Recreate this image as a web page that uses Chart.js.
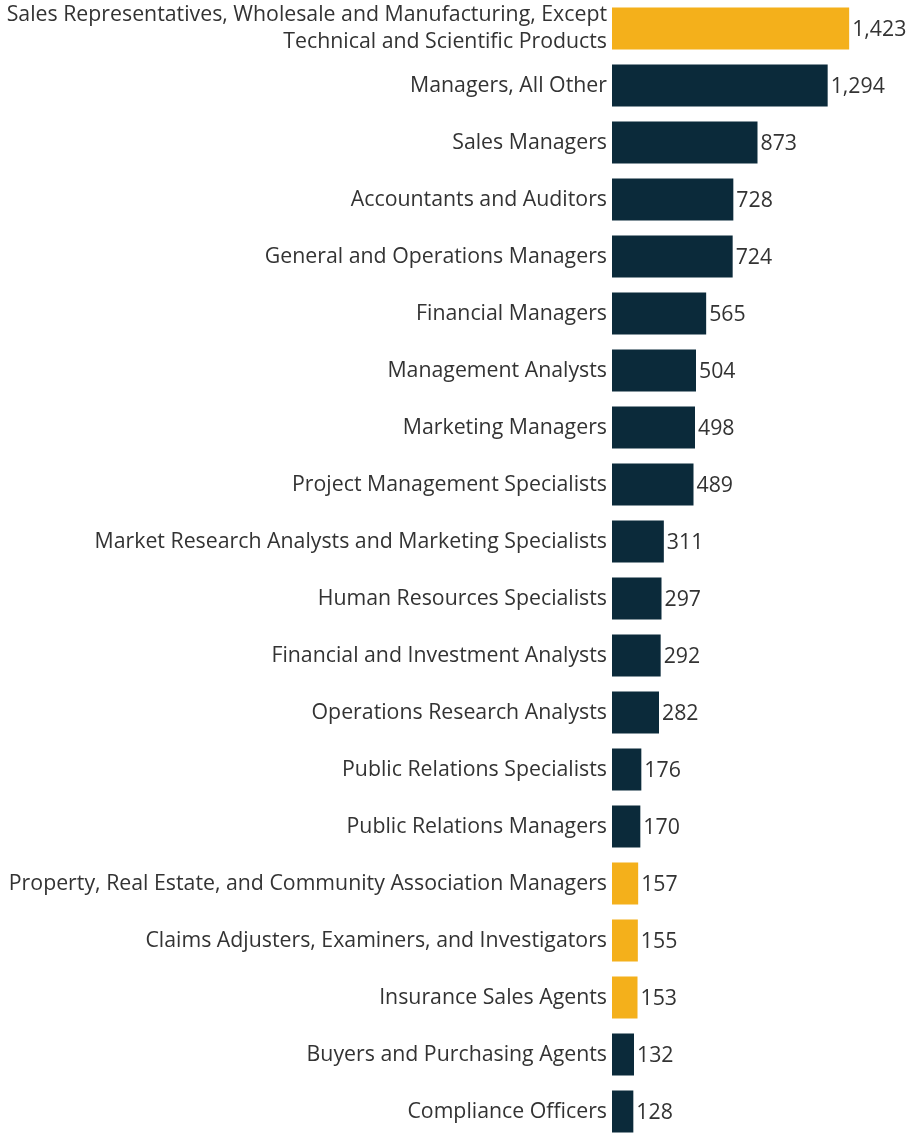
<!DOCTYPE html>
<html><head><meta charset="utf-8">
<script src="https://cdn.jsdelivr.net/npm/chart.js@4"></script>
<style>html,body{margin:0;padding:0;background:#fff}#wrap{width:922px;height:1140px;position:relative}</style>
</head><body><div id="wrap"><canvas id="c"></canvas></div>
<script>
const categories = [
  ["Sales Representatives, Wholesale and Manufacturing, Except","Technical and Scientific Products"],
  "Managers, All Other","Sales Managers","Accountants and Auditors","General and Operations Managers",
  "Financial Managers","Management Analysts","Marketing Managers","Project Management Specialists",
  "Market Research Analysts and Marketing Specialists","Human Resources Specialists",
  "Financial and Investment Analysts","Operations Research Analysts","Public Relations Specialists",
  "Public Relations Managers","Property, Real Estate, and Community Association Managers",
  "Claims Adjusters, Examiners, and Investigators","Insurance Sales Agents",
  "Buyers and Purchasing Agents","Compliance Officers"
];
const values = [1423,1294,873,728,724,565,504,498,489,311,297,292,282,176,170,157,155,153,132,128];
const highlighted = [true,false,false,false,false,false,false,false,false,false,false,false,false,false,false,true,true,true,false,false];
const GOLD = '#f4b01b', NAVY = '#0b2a3a';
const FONT = '"Open Sans", sans-serif';
const FSIZE = 21.3;

const valueLabels = {
  id:'valueLabels',
  afterDatasetsDraw(chart){
    const ctx = chart.ctx; const meta = chart.getDatasetMeta(0);
    ctx.save(); ctx.font = FSIZE + 'px ' + FONT; ctx.fillStyle = '#333'; ctx.textBaseline='middle'; ctx.textAlign='left';
    meta.data.forEach((bar,i)=>{ ctx.fillText(values[i].toLocaleString('en-US'), bar.x + 3, bar.y + 1); });
    ctx.restore();
  }
};

new Chart(document.getElementById('c'), {
  type:'bar',
  data:{ labels: categories, datasets:[{ data: values,
    backgroundColor: highlighted.map(h=>h?GOLD:NAVY),
    categoryPercentage:1, barPercentage:0.74 }]},
  options:{
    indexAxis:'y', responsive:true, maintainAspectRatio:false, animation:false,
    layout:{padding:0},
    plugins:{legend:{display:false}, tooltip:{enabled:false}},
    scales:{
      x:{display:false, min:0, max:1860},
      y:{
        grid:{display:false, drawTicks:false}, border:{display:false},
        ticks:{color:'#333', padding:5, autoSkip:false, font:{family:FONT, size:FSIZE, lineHeight:1.27}},
        afterFit(s){ s.width = 612; s.paddingTop = 0; s.paddingBottom = 0; }
      }
    }
  },
  plugins:[valueLabels]
});
</script></body></html>
